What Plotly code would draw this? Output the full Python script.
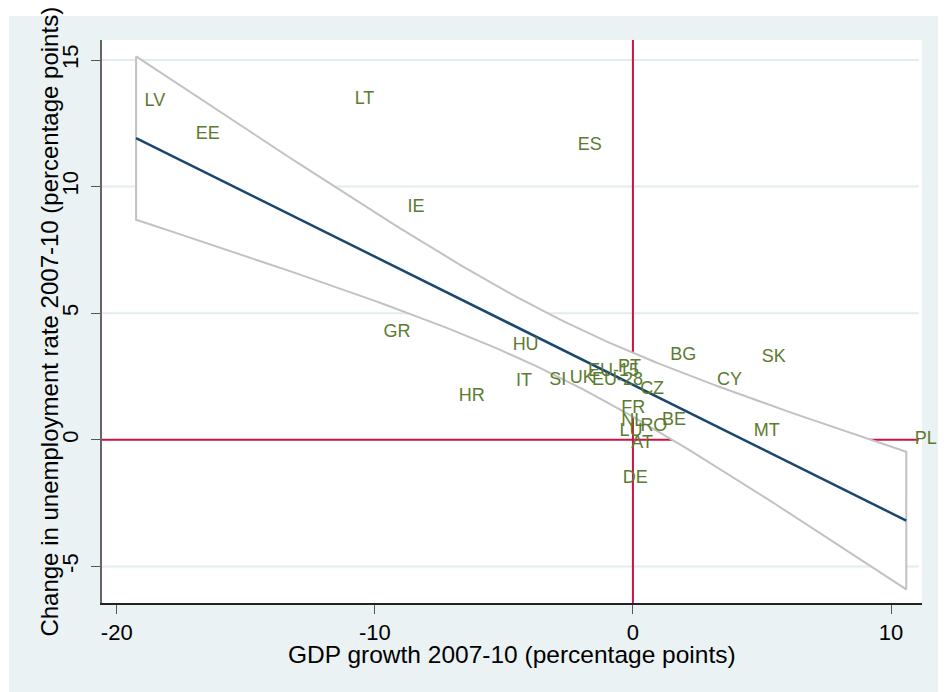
import math
import numpy as np
import plotly.graph_objects as go

# ---- data ----
countries = ["LV", "EE", "LT", "ES", "IE", "GR", "HU", "IT", "SI", "UK", "EU-15", "PT",
             "EU-28", "CZ", "BG", "CY", "SK", "MT", "PL", "FR", "NL", "LU", "RO", "BE",
             "AT", "DE", "HR"]
gdp_growth = [-19.25, -17.27, -11.11, -2.47, -9.06, -9.99, -4.99, -4.86, -3.57, -2.78, -2.07, -0.91,
              -1.91, -0.05, 1.12, 2.93, 4.66, 4.35, 10.59, -0.78, -0.78, -0.85, -0.04, 0.80,
              -0.39, -0.72, -7.08]
unemp_change = [13.36, 12.04, 13.44, 11.63, 9.17, 4.22, 3.74, 2.29, 2.35, 2.43, 2.71, 2.86,
                2.35, 1.97, 3.34, 2.34, 3.24, 0.32, 0.00, 1.24, 0.71, 0.34, 0.51, 0.76,
                -0.15, -1.54, 1.70]

x_tickvals = [-20, -10, 0, 10]
x_ticktext = ["-20", "-10", "0", "10"]
y_tickvals = [-5, 0, 5, 10, 15]
y_ticktext = ["-5", "0", "5", "10", "15"]
ref_line_value = 0

x_title = "GDP growth 2007-10 (percentage points)"
y_title = "Change in unemployment rate 2007-10 (percentage points)"

# ---- linear fit with 95% CI of the mean (like Stata lfitci) ----
x = np.array(gdp_growth)
y = np.array(unemp_change)
n = len(x)
b, a = np.polyfit(x, y, 1)
resid = y - (a + b * x)
s = math.sqrt(np.sum(resid ** 2) / (n - 2))
xbar = x.mean()
sxx = np.sum((x - xbar) ** 2)


def t_pdf(t, df):
    c = math.gamma((df + 1) / 2) / (math.sqrt(df * math.pi) * math.gamma(df / 2))
    return c * (1 + t * t / df) ** (-(df + 1) / 2)


def t_crit(p, df):
    def cdf(tv):
        g = np.linspace(0, tv, 4001)
        return 0.5 + np.trapezoid([t_pdf(v, df) for v in g], g)
    lo, hi = 0.0, 10.0
    for _ in range(60):
        mid = (lo + hi) / 2
        if cdf(mid) < p:
            lo = mid
        else:
            hi = mid
    return (lo + hi) / 2


tc = t_crit(0.975, n - 2)
xs = np.linspace(x.min(), x.max(), 120)
fit = a + b * xs
half = tc * s * np.sqrt(1 / n + (xs - xbar) ** 2 / sxx)
upper = fit + half
lower = fit - half

BG = "#EAF2F3"
GRID = "#E2ECEE"
RED = "#CC1144"
NAVY = "#1A476F"
CIGRAY = "#C2C2C2"
GREEN = "#5B7B30"
FONT = "Liberation Sans, Arial, sans-serif"

fig = go.Figure()

# CI band: white area with gray outline
fig.add_trace(go.Scatter(
    x=np.concatenate([xs, xs[::-1], xs[:1]]),
    y=np.concatenate([upper, lower[::-1], upper[:1]]),
    mode="lines", fill="toself", fillcolor="white",
    line=dict(color=CIGRAY, width=2), hoverinfo="skip", showlegend=False))

# fitted line
fig.add_trace(go.Scatter(x=xs, y=fit, mode="lines",
                         line=dict(color=NAVY, width=2.5),
                         hoverinfo="skip", showlegend=False))

# country labels
fig.add_trace(go.Scatter(x=gdp_growth, y=unemp_change, mode="markers+text",
                         text=countries, textposition="middle right",
                         marker=dict(size=12, opacity=0), cliponaxis=False,
                         textfont=dict(family=FONT, size=18, color=GREEN),
                         hoverinfo="text", showlegend=False))

# horizontal grid lines (all ticks except the red reference line)
for v in y_tickvals:
    if v != ref_line_value:
        fig.add_shape(type="line", xref="paper", yref="y", x0=0, x1=0.996, y0=v, y1=v,
                      line=dict(color=GRID, width=2), layer="below")

# reference lines at 0 (between gridlines and traces)
fig.add_shape(type="line", xref="x", yref="paper", x0=ref_line_value, x1=ref_line_value, y0=0, y1=1,
              line=dict(color=RED, width=2), layer="between")
fig.add_shape(type="line", xref="paper", yref="y", x0=0, x1=0.996, y0=ref_line_value, y1=ref_line_value,
              line=dict(color=RED, width=2), layer="between")

# white strips at top and left of the figure, outside the grey frame
fig.add_shape(type="rect", xref="paper", yref="paper", x0=-0.2, x1=1.1, y0=1.0426, y1=1.2,
              fillcolor="white", line=dict(width=0), layer="below")
fig.add_shape(type="rect", xref="paper", yref="paper", x0=-0.2, x1=-0.1135, y0=-0.3, y1=1.2,
              fillcolor="white", line=dict(width=0), layer="below")

# axis titles as annotations for exact placement
fig.add_annotation(text=x_title, xref="paper", yref="paper", x=0.5, y=-0.0918,
                   xanchor="center", yanchor="middle", showarrow=False,
                   font=dict(family=FONT, size=24.5, color="black"))
fig.add_annotation(text=y_title, xref="paper", yref="paper", x=-0.0645, y=0.5,
                   xanchor="center", yanchor="middle", textangle=-90, showarrow=False,
                   font=dict(family=FONT, size=24, color="black"))

fig.update_layout(
    width=938, height=684,
    margin=dict(l=94, r=24, t=32, b=89),
    paper_bgcolor=BG, plot_bgcolor="white",
    font=dict(family=FONT, color="black"),
    showlegend=False,
    xaxis=dict(range=[-20.57, 11.2], tickvals=x_tickvals, ticktext=x_ticktext,
               ticks="outside", ticklen=9, tickcolor="#555", tickwidth=1,
               showline=True, linecolor="#222", linewidth=1.5,
               showgrid=False, zeroline=False,
               tickfont=dict(family=FONT, size=22, color="black")),
    yaxis=dict(range=[-6.445, 15.79], tickvals=y_tickvals, ticktext=y_ticktext,
               tickangle=-90, ticklabelstandoff=4,
               ticks="outside", ticklen=9, tickcolor="#555", tickwidth=1,
               showline=True, linecolor="#666", linewidth=1.5,
               showgrid=False, zeroline=False,
               tickfont=dict(family=FONT, size=22, color="black")),
)

fig.write_html("out.html")
